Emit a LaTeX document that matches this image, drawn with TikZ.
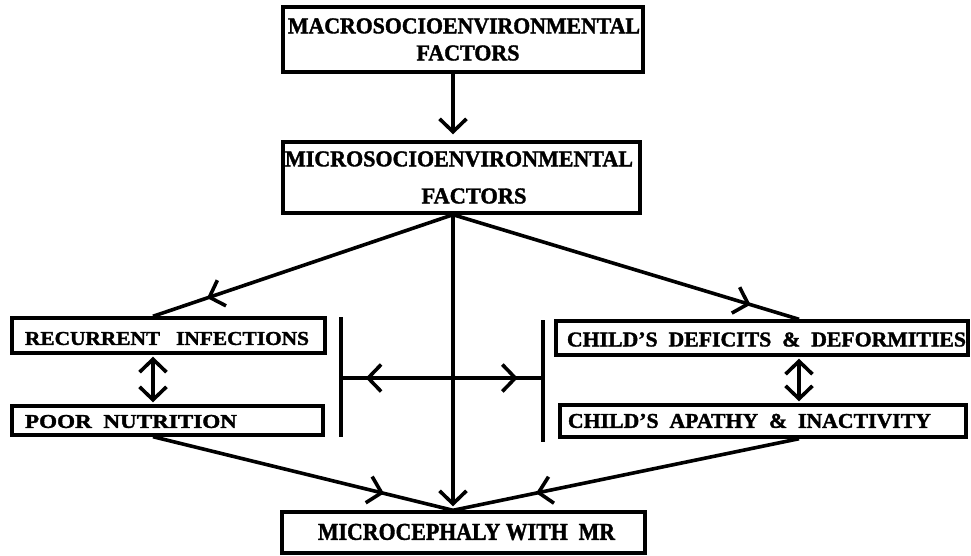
\documentclass[tikz,border=0pt]{standalone}
\usepackage{fontspec}
\setmainfont{Liberation Serif}[BoldFeatures={FakeBold=1.6}]
\usetikzlibrary{arrows.meta,decorations.markings,calc}
\newcommand{\fitt}[3]{\resizebox{#1pt}{#2pt}{\bfseries #3}}
\tikzset{
  mybarb/.tip={Straight Barb[length=13pt,width=27pt]},
  box/.style={draw, line width=3.4pt, inner sep=0pt, minimum width=#1},
  txt/.style={inner sep=0pt, anchor=center},
  conn/.style={line width=3.6pt},
  arr/.style={conn, -{mybarb}},
  darr/.style={conn, {mybarb}-{mybarb}, shorten <=2pt, shorten >=2pt},
  mid/.style={conn, postaction={decorate},
    decoration={markings, mark=at position #1 with {\arrow{mybarb}}}},
}
\begin{document}
\begin{tikzpicture}[x=1pt,y=-1pt]
\fill[white] (0,0) rectangle (971,556);
\useasboundingbox (0,0) rectangle (971,556);
% boxes
\node[box=360pt, minimum height=65pt] (macro) at (463,39.5) {};
\node[box=357pt, minimum height=71pt] (micro) at (461.5,177.5) {};
\node[box=313pt, minimum height=35pt] (rec) at (168.5,335.5) {};
\node[box=311pt, minimum height=29pt] (poor) at (167.5,420.5) {};
\node[box=412pt, minimum height=34pt] (def) at (762,338) {};
\node[box=406pt, minimum height=32pt] (apa) at (763,421) {};
\node[box=363pt, minimum height=41pt] (mic) at (463.5,532.5) {};
% texts
\node[txt] (tmacro1) at (464,26) {\fitt{352}{15}{MACROSOCIOENVIRONMENTAL}};
\node[txt] (tmacro2) at (468,53) {\fitt{103}{15}{FACTORS}};
\node[txt] (tmicro1) at (459,159) {\fitt{348}{15}{MICROSOCIOENVIRONMENTAL}};
\node[txt] (tmicro2) at (474,196) {\fitt{105}{15}{FACTORS}};
\node[txt] (trec) at (167,338.5) {\fitt{284}{13}{RECURRENT\ \ \ INFECTIONS}};
\node[txt] (tpoor) at (131,421.5) {\fitt{212}{13}{POOR\ \ NUTRITION}};
\node[txt] (tdef) at (766.5,339.5) {\fitt{399}{14}{CHILD'S\ \ DEFICITS\ \ \&\ \ DEFORMITIES}};
\node[txt] (tapa) at (749.5,421) {\fitt{363}{14}{CHILD'S\ \ APATHY\ \ \&\ \ INACTIVITY}};
\node[txt] (tmic) at (466.5,532) {\fitt{297}{16}{MICROCEPHALY WITH\ \ MR}};
% reference coordinates
\coordinate (vx) at (453,0);
\coordinate (lx) at (153,0);
\coordinate (rx) at (799,0);
\coordinate (lbt) at (341,317);
\coordinate (lbb) at (341,437);
\coordinate (rbt) at (543,320);
\coordinate (rbb) at (543,442);
\coordinate (hc) at (453,378);
% connectors
\draw[arr, shorten >=6pt] (macro.south -| vx) -- (micro.north -| vx);
\draw[arr, shorten >=4pt] (micro.south -| vx) -- (mic.north -| vx);
\draw[mid=0.82] (micro.south -| vx) -- (rec.north -| lx);
\draw[mid=0.86] (micro.south -| vx) -- (def.north -| rx);
\draw[mid=0.77] (poor.south -| lx) -- (mic.north -| vx);
\draw[mid=0.76] (apa.south -| rx) -- (mic.north -| vx);
\draw[darr] (rec.south -| lx) -- (poor.north -| lx);
\draw[darr] (def.south -| rx) -- (apa.north -| rx);
% bars and horizontal link
\draw[conn] (lbt) -- (lbb);
\draw[conn] (rbt) -- (rbb);
\draw[mid=0.78] (hc) -- (hc -| lbt);
\draw[mid=0.72] (hc) -- (hc -| rbt);
\end{tikzpicture}
\end{document}
